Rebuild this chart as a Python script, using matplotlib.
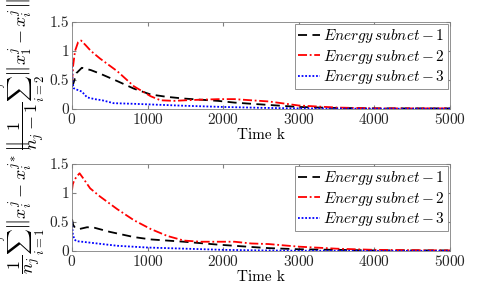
import numpy as np
import matplotlib
matplotlib.use("Agg")
import matplotlib.pyplot as plt

plt.rcParams['font.family'] = 'serif'
plt.rcParams['font.serif'] = ['cmr10', 'DejaVu Serif']
plt.rcParams['mathtext.fontset'] = 'cm'
plt.rcParams['axes.formatter.use_mathtext'] = True
plt.rcParams['axes.unicode_minus'] = False

# top panel: distance to subnet leader
t_top_1 = [0, 20, 60, 130, 250, 370, 600, 820, 1040, 1250, 1480, 1700, 1930, 2150, 2370, 2600, 3000, 3400, 4000, 4500, 5000]
v_top_1 = [0.38, 0.45, 0.62, 0.71, 0.67, 0.61, 0.48, 0.35, 0.25, 0.21, 0.18, 0.16, 0.14, 0.11, 0.09, 0.07, 0.035, 0.02, 0.01, 0.01, 0.01]
t_top_2 = [0, 15, 40, 80, 120, 180, 250, 370, 600, 820, 1040, 1170, 1350, 1500, 1700, 1950, 2150, 2370, 2600, 3000, 3500, 4000, 5000]
v_top_2 = [0.45, 0.75, 1.0, 1.15, 1.18, 1.1, 1.0, 0.87, 0.65, 0.39, 0.22, 0.15, 0.14, 0.15, 0.16, 0.17, 0.17, 0.15, 0.13, 0.06, 0.025, 0.01, 0.01]
t_top_3 = [0, 5, 20, 50, 130, 200, 300, 400, 550, 800, 1000, 1500, 2000, 2500, 3000, 4000, 5000]
v_top_3 = [0.8, 0.5, 0.36, 0.34, 0.3, 0.2, 0.17, 0.15, 0.1, 0.09, 0.08, 0.055, 0.035, 0.02, 0.01, 0.005, 0.005]

# bottom panel: distance to optimum
t_bot_1 = [0, 15, 40, 100, 200, 300, 500, 820, 1040, 1480, 1930, 2370, 2600, 3000, 3500, 4000, 5000]
v_bot_1 = [0.55, 0.45, 0.4, 0.38, 0.41, 0.4, 0.33, 0.24, 0.2, 0.16, 0.11, 0.07, 0.05, 0.03, 0.02, 0.01, 0.01]
t_bot_2 = [0, 10, 30, 60, 100, 150, 240, 370, 600, 820, 1040, 1260, 1480, 1700, 1950, 2150, 2370, 2600, 3000, 3500, 4000, 4500, 5000]
v_bot_2 = [1.05, 1.15, 1.22, 1.28, 1.34, 1.25, 1.08, 0.94, 0.72, 0.53, 0.38, 0.26, 0.18, 0.16, 0.16, 0.16, 0.13, 0.12, 0.075, 0.04, 0.02, 0.015, 0.01]
t_bot_3 = [0, 10, 30, 60, 200, 400, 600, 1000, 1500, 2000, 2500, 3000, 4000, 5000]
v_bot_3 = [0.5, 0.3, 0.2, 0.17, 0.15, 0.12, 0.09, 0.06, 0.04, 0.02, 0.01, 0.005, 0.003, 0.003]

labels = [r'$Energy\,subnet-1$', r'$Energy\,subnet-2$', r'$Energy\,subnet-3$']
ylab_top = r'$\dfrac{1}{n_j-1}\sum_{i=2}^{n_j}\left\Vert x_1^j-x_i^j\right\Vert$'
ylab_bot = r'$\dfrac{1}{n_j}\sum_{i=1}^{n_j}\left\Vert x_i^j-x_i^{j*}\right\Vert$'

fig = plt.figure(figsize=(4.98, 2.99), dpi=100)
ax1 = fig.add_axes([0.1446, 0.6355, 0.759, 0.291])
ax2 = fig.add_axes([0.1446, 0.1605, 0.759, 0.291])

def panel(ax, data, ylab, ylab_y):
    (t1, v1), (t2, v2), (t3, v3) = data
    ax.plot(t1, v1, color='k', ls=(0, (5, 3)), lw=1.3, label=labels[0])
    ax.plot(t2, v2, color='r', ls=(0, (5, 1.5, 1, 1.5)), lw=1.3, label=labels[1])
    ax.plot(t3, v3, color='b', ls=(0, (1, 1)), lw=1.3, label=labels[2])
    ax.set_xlim(0, 5000)
    ax.set_ylim(0, 1.5)
    ax.set_xticks([0, 1000, 2000, 3000, 4000, 5000])
    ax.set_yticks([0, 0.5, 1, 1.5])
    ax.set_yticklabels(['0', '0.5', '1', '1.5'])
    ax.tick_params(direction='in', top=True, right=True, labelsize=11,
                   colors='#808080', labelcolor='#262626', length=3, pad=2)
    for s in ax.spines.values():
        s.set_color('#808080')
        s.set_linewidth(0.6)
    ax.set_xlabel('Time k', fontsize=11, labelpad=1)
    ax.set_ylabel(ylab, fontsize=13)
    ax.yaxis.set_label_coords(-0.066, ylab_y)
    leg = ax.legend(loc='upper right', fontsize=11, handlelength=1.4,
                    handletextpad=0.2, borderpad=0.2, labelspacing=0.15,
                    fancybox=False, framealpha=1, borderaxespad=0.15)
    leg.get_frame().set_edgecolor('#808080')
    leg.get_frame().set_linewidth(0.6)

panel(ax1, [(t_top_1, v_top_1), (t_top_2, v_top_2), (t_top_3, v_top_3)], ylab_top, 0.4)
panel(ax2, [(t_bot_1, v_bot_1), (t_bot_2, v_bot_2), (t_bot_3, v_bot_3)], ylab_bot, 0.5)

fig.savefig('out.png', dpi=100)
